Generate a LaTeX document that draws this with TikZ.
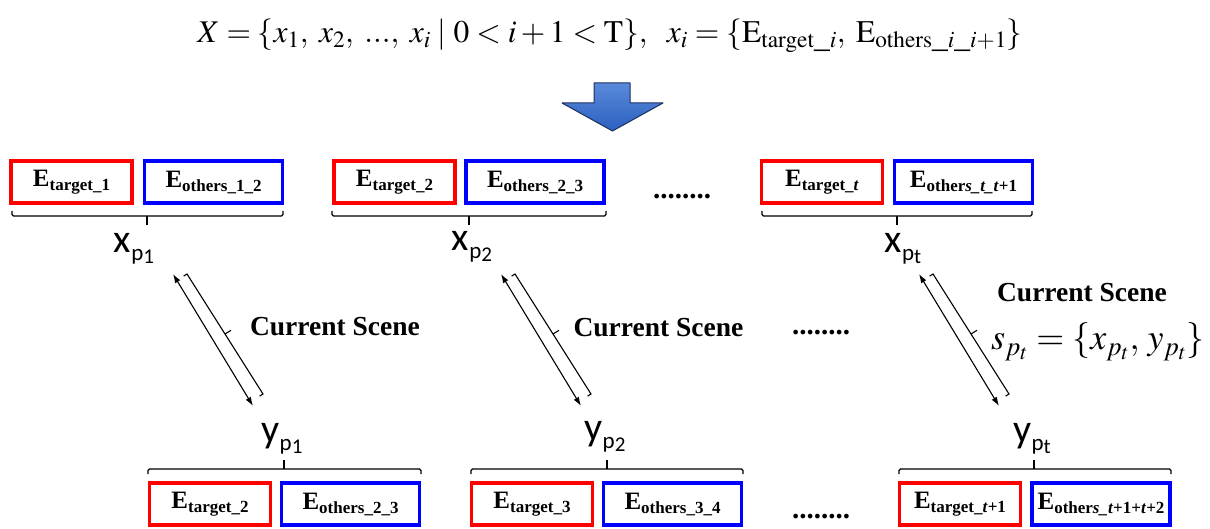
\documentclass[tikz,border=0pt]{standalone}
\usepackage{mathptmx}
\usepackage{fontspec}
\setmainfont{Liberation Serif}
\newfontfamily\labfont{Carlito}
\usetikzlibrary{arrows.meta,calc}
\definecolor{arrowtop}{RGB}{90,138,218}
\definecolor{arrowbot}{RGB}{44,96,192}
\definecolor{arrowline}{RGB}{28,48,92}
\newcommand\Esub[1]{E\raisebox{-4pt}{\fontsize{17}{17}\selectfont #1}}
\newcommand\plab[3]{{\labfont\fontsize{40}{40}\selectfont #1\raisebox{-8pt}{\fontsize{23}{23}\selectfont #2\raisebox{-3pt}{\fontsize{21}{21}\selectfont #3}}}}
\tikzset{
  ebox/.style={line width=3.6pt, minimum height=42.4pt, inner sep=0pt,
    font=\fontsize{25}{25}\selectfont\bfseries},
  rbox/.style={ebox, draw=red, minimum width=121pt},
  bbox/.style={ebox, draw=blue, minimum width=137.8pt},
  bracel/.style={line width=1.3pt, rounded corners=1.5pt},
  dblarrow/.style={line width=1.1pt, {Latex[length=9pt,width=6pt]}-{Latex[length=9pt,width=6pt]}},
  thinl/.style={line width=1.1pt},
  cs/.style={font=\fontsize{27.5}{27.5}\selectfont\bfseries, inner sep=0pt},
  dots/.style={font=\fontsize{29}{29}\selectfont\bfseries, inner sep=0pt},
  lab/.style={inner sep=0pt}
}
\newcommand\scenelink[2]{%
  \coordinate (#2s) at (#1,274);
  \coordinate (#2e) at (#1+80,406);
  \draw[dblarrow] (#2s) -- (#2e);
  \coordinate (#2b) at (#1+14,274);
  \coordinate (#2c) at (#1+90,394);
  \draw[thinl] ($(#2b)+(-3.4,2.1)$) -- (#2b) -- (#2c) -- ($(#2c)+(-3.4,2.1)$);
  \draw[thinl] ($(#2b)!0.5!(#2c)$) -- +(6,-3.7);
}
\newcommand\topbrace[3]{%
  \draw[bracel] (#1,211) -- (#1,216) -- (#2,216) -- (#2,211);
  \draw[bracel] (#3,216) -- (#3,225);
}
\newcommand\botbrace[3]{%
  \draw[bracel] (#1,474) -- (#1,469) -- (#2,469) -- (#2,474);
  \draw[bracel] (#3,469) -- (#3,460);
}
\begin{document}
\begin{tikzpicture}[x=1pt,y=-1pt]
\useasboundingbox (0,0) rectangle (1210,529);
% top formula
\node[inner sep=0pt, font=\fontsize{31.5}{36}\selectfont] (formula) at (610,36)
  {$X=\{x_1,\; x_2,\; ...,\; x_i \;|\; 0<i+1<\mathrm{T}\},\ \ x_i=\{\mathrm{E}_{\mathrm{target}\_i},\; \mathrm{E}_{\mathrm{others}\_i\_i+1}\}$};
% big arrow
\shade[top color=arrowtop, bottom color=arrowbot, draw=arrowline, line width=1pt, line join=round]
  (594,83) -- (630,83) -- (630,103) -- (663,103) -- (612.5,131) -- (562,103) -- (594,103) -- cycle;
% top boxes
\node[rbox] (r1) at (71.5,182) {\Esub{target\_1}};
\node[bbox] (b1) at (213.5,182) {\Esub{others\_1\_2}};
\node[rbox] (r2) at (394.5,182) {\Esub{target\_2}};
\node[bbox] (b2) at (535,182) {\Esub{others\_2\_3}};
\node[rbox] (rt) at (822,182) {\Esub{target\_\textit{t}}};
\node[bbox] (bt) at (963.5,182) {\Esub{other\textit{s\_t\_t}+1}};
\node[dots] (d1) at (682,197) {........};
\topbrace{12}{283}{147}
\topbrace{332}{606}{469}
\topbrace{762}{1032}{897}
% x labels
\node[lab] (xp1) at (134,249) {\plab{x}{p}{1}};
\node[lab] (xp2) at (472,247) {\plab{x}{p}{2}};
\node[lab] (xpt) at (903,249) {\plab{x}{p}{t}};
% scene links
\scenelink{173}{sa}
\scenelink{501}{sb}
\scenelink{919}{sc}
\node[cs] (cs1) at (335,327) {Current Scene};
\node[cs] (cs2) at (658.5,328) {Current Scene};
\node[cs] (cs3) at (1082,293) {Current Scene};
\node[dots] (d2) at (821,333) {........};
\node[inner sep=0pt, font=\fontsize{36}{42}\selectfont] (sform) at (1098,342)
  {$s_{p_t}=\{x_{p_t},\, y_{p_t}\}$};
% y labels
\node[lab] (yp1) at (282,439) {\plab{y}{p}{1}};
\node[lab] (yp2) at (605,437) {\plab{y}{p}{2}};
\node[lab] (ypt) at (1032,439) {\plab{y}{p}{t}};
% bottom braces
\botbrace{148}{421}{284}
\botbrace{471}{743}{607}
\botbrace{899}{1171}{1034}
% bottom boxes
\node[rbox] (rb1) at (210,504) {\Esub{target\_2}};
\node[bbox] (bb1) at (350.5,504) {\Esub{others\_2\_3}};
\node[rbox] (rb2) at (532,504) {\Esub{target\_3}};
\node[bbox] (bb2) at (672.5,504) {\Esub{others\_3\_4}};
\node[rbox] (rbt) at (960,504) {\Esub{target\_\textit{t}+1}};
\node[bbox] (bbt) at (1101,504) {\Esub{other\textit{s\_t}+1+\textit{t}+2}};
\node[dots] (d3) at (821,517) {........};
\end{tikzpicture}
\end{document}
